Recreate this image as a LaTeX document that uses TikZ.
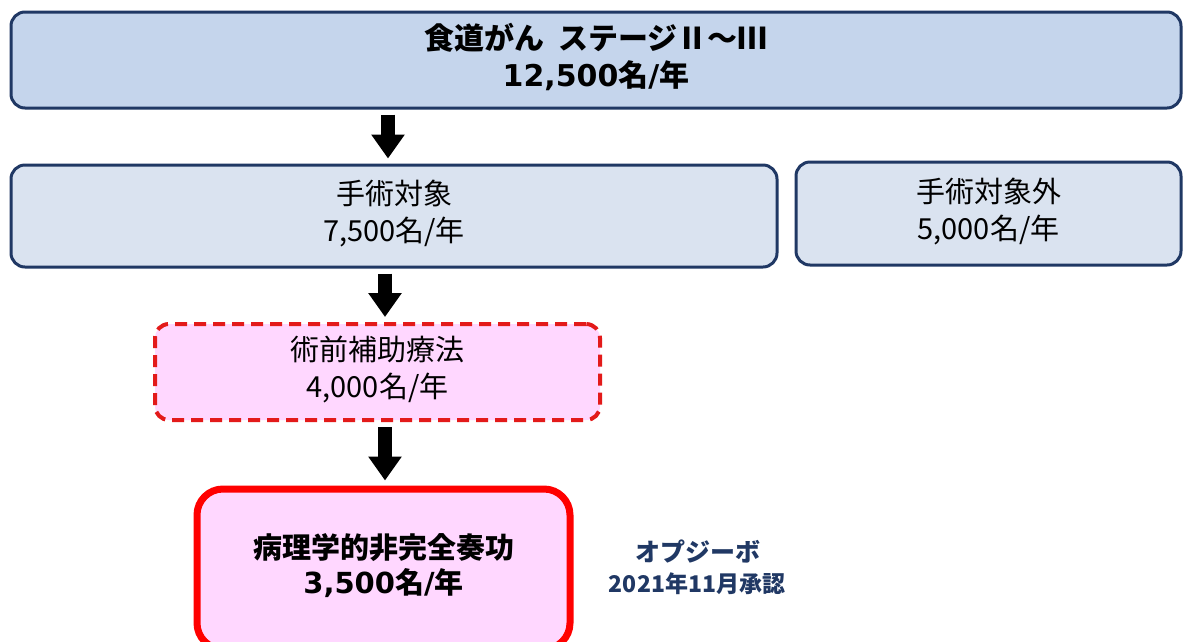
\documentclass[tikz,border=0pt]{standalone}
\usepackage{fontspec}
\setmainfont{Noto Sans CJK JP}
\newfontfamily\latbold{DejaVu Sans}[UprightFont={* Bold}]
\usetikzlibrary{arrows.meta}
\definecolor{navy}{HTML}{203864}
\definecolor{topfill}{HTML}{C5D5EC}
\definecolor{lightfill}{HTML}{DAE3F0}
\definecolor{pinkfill}{HTML}{FFD7FF}
\definecolor{redline}{HTML}{FF0000}
\definecolor{dashred}{HTML}{E31A1A}
\newcommand\boxlines[2]{\raisebox{#1}{\begin{tabular}{@{}c@{}}#2\end{tabular}}}
\tikzset{
  bluebox/.style={draw=navy, line width=3pt, rounded corners=14pt, align=center, inner sep=0pt},
  maintext/.style={font=\fontsize{29}{37}\selectfont, text=black},
  blk/.style={line width=14pt, -{Triangle[width=32pt,length=24pt]}, shorten <=5pt, shorten >=5pt, draw=black},
}
\begin{document}
\begin{tikzpicture}[x=1pt,y=-1pt]
\useasboundingbox (0,0) rectangle (1183,641);
\clip (0,0) rectangle (1183,641);
\fill[white] (0,0) rectangle (1183,641);

\node[bluebox, fill=topfill, minimum width=1170pt, minimum height=96pt, maintext, font=\fontsize{30}{37}\selectfont\bfseries] (top) at (596,60)
  {\boxlines{-2pt}{食道がん\hspace{0.45em}ステージⅡ～Ⅲ\\{\latbold 12,500}名{\latbold /}年}};

\node[bluebox, fill=lightfill, minimum width=766pt, minimum height=102pt, maintext] (surg) at (394,216)
  {\boxlines{-5pt}{手術対象\\7,500名/年}};

\node[bluebox, fill=lightfill, minimum width=385pt, minimum height=103pt, maintext] (nonsurg) at (988.5,213.5)
  {\boxlines{-3pt}{手術対象外\\5,000名/年}};

\node[draw=dashred, line width=4pt, dash pattern=on 12pt off 7pt, rounded corners=14pt, fill=pinkfill,
      minimum width=445pt, minimum height=96pt, align=center, inner sep=0pt, maintext] (neo) at (377.5,372)
  {\boxlines{-4pt}{術前補助療法\\4,000名/年}};

\node[draw=redline, line width=7pt, rounded corners=26pt, fill=pinkfill,
      minimum width=373pt, minimum height=160pt, align=center, inner sep=0pt, maintext,
      font=\fontsize{29}{34}\selectfont\bfseries] (path) at (383.5,569)
  {\boxlines{-2pt}{病理学的非完全奏功\\{\latbold 3,500}名{\latbold /}年}};

\node[text=navy, font=\fontsize{25}{30}\selectfont\bfseries, inner sep=0pt] (drug) at (698,552) {オプジーボ};
\node[text=navy, font=\fontsize{23}{26}\selectfont\bfseries, inner sep=0pt] (date) at (697,584) {2021年11月承認};

\coordinate (a1) at (388,0);
\coordinate (a2) at (385,0);
\draw[blk] (top.south -| a1) -- (surg.north -| a1);
\draw[blk] (surg.south -| a2) -- (neo.north -| a2);
\draw[blk] (neo.south -| a2) -- (path.north -| a2);
\end{tikzpicture}
\end{document}
